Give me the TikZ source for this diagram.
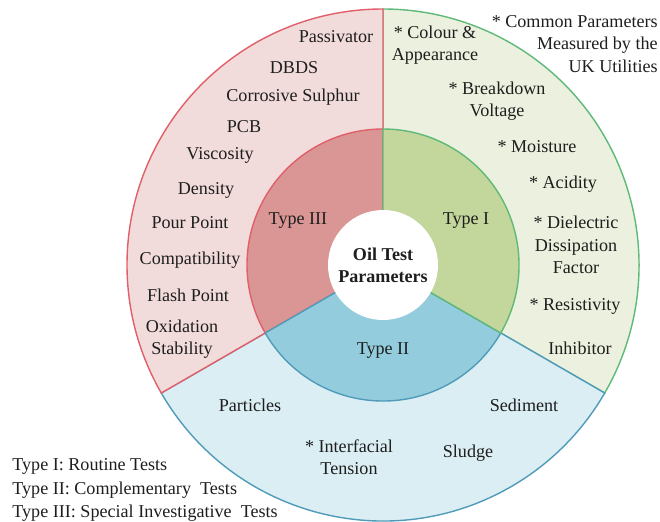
\documentclass[tikz,border=0pt]{standalone}
\usepackage{fontspec}
\setmainfont{Liberation Serif}
\usepackage{tikz}

\definecolor{redline}{RGB}{225,95,105}
\definecolor{redout}{RGB}{242,220,219}
\definecolor{redin}{RGB}{217,150,148}
\definecolor{greenline}{RGB}{95,185,120}
\definecolor{greenout}{RGB}{235,241,222}
\definecolor{greenin}{RGB}{195,214,155}
\definecolor{blueline}{RGB}{80,155,185}
\definecolor{blueout}{RGB}{219,238,244}
\definecolor{bluein}{RGB}{147,205,221}
\definecolor{txtcol}{RGB}{30,30,30}

\begin{document}
\begin{tikzpicture}[
	txt/.style={font=\fontsize{10.3}{12.7}\selectfont, text=txtcol, align=center, inner sep=0pt},
	sector/.style={line width=0.8pt}
	]
	\useasboundingbox (0,0) rectangle (13.2,10.42);
	\coordinate (c) at (7.66,5.12);

	% outer ring
	\filldraw [sector, fill=greenout, draw=greenline] (c) -- ++(-30:5.12) arc [start angle=-30, end angle=90, radius=5.12] -- cycle;
	\filldraw [sector, fill=blueout, draw=blueline] (c) -- ++(210:5.12) arc [start angle=210, end angle=330, radius=5.12] -- cycle;
	\filldraw [sector, fill=redout, draw=redline] (c) -- ++(90:5.12) arc [start angle=90, end angle=210, radius=5.12] -- cycle;
	% inner ring
	\filldraw [sector, fill=redin, draw=redline] (c) -- ++(90:2.72) arc [start angle=90, end angle=210, radius=2.72] -- cycle;
	\filldraw [sector, fill=bluein, draw=blueline] (c) -- ++(210:2.72) arc [start angle=210, end angle=330, radius=2.72] -- cycle;
	\filldraw [sector, fill=greenin, draw=greenline] (c) -- ++(-30:2.72) arc [start angle=-30, end angle=90, radius=2.72] -- cycle;

	% centre
	\node [txt, circle, fill=white, minimum size=2.2cm, font=\fontsize{10.3}{12.7}\selectfont\bfseries] (core) at (c) {Oil Test\\Parameters};

	% types
	\node [txt] (type3) at (5.96,6.00) {Type III};
	\node [txt] (type1) at (9.32,6.00) {Type I};
	\node [txt] (type2) at (7.66,3.40) {Type II};

	% type III
	\node [txt] (passivator) at (6.72,9.68) {Passivator};
	\node [txt] (dbds) at (5.88,9.06) {DBDS};
	\node [txt] (sulphur) at (5.86,8.48) {Corrosive Sulphur};
	\node [txt] (pcb) at (4.88,7.88) {PCB};
	\node [txt] (viscosity) at (4.40,7.32) {Viscosity};
	\node [txt] (density) at (4.12,6.62) {Density};
	\node [txt] (pour) at (3.80,5.96) {Pour Point};
	\node [txt] (compat) at (3.80,5.22) {Compatibility};
	\node [txt] (flash) at (3.76,4.52) {Flash Point};
	\node [txt] (oxid) at (3.64,3.64) {Oxidation\\Stability};

	% type I
	\node [txt] (colour) at (8.70,9.52) {* Colour \&\\Appearance};
	\node [txt] (breakdown) at (9.94,8.40) {* Breakdown\\Voltage};
	\node [txt] (moisture) at (10.74,7.48) {* Moisture};
	\node [txt] (acidity) at (11.26,6.74) {* Acidity};
	\node [txt] (ddf) at (11.52,5.52) {* Dielectric\\Dissipation\\Factor};
	\node [txt] (resist) at (11.50,4.30) {* Resistivity};
	\node [txt] (inhibitor) at (11.60,3.46) {Inhibitor};

	% type II
	\node [txt] (particles) at (5.00,2.32) {Particles};
	\node [txt] (sediment) at (10.48,2.32) {Sediment};
	\node [txt] (ift) at (6.98,1.28) {* Interfacial\\Tension};
	\node [txt] (sludge) at (9.36,1.36) {Sludge};

	% notes
	\node [txt, align=right, anchor=east] (common) at (13.16,9.54) {* Common Parameters\\Measured by the\\UK Utilities};
	\node [txt, align=left, anchor=west, font=\fontsize{10.3}{13.2}\selectfont] (legend) at (0.24,0.62) {Type I: Routine Tests\\Type II: Complementary\ \ Tests\\Type III: Special Investigative\ \ Tests};
\end{tikzpicture}
\end{document}
